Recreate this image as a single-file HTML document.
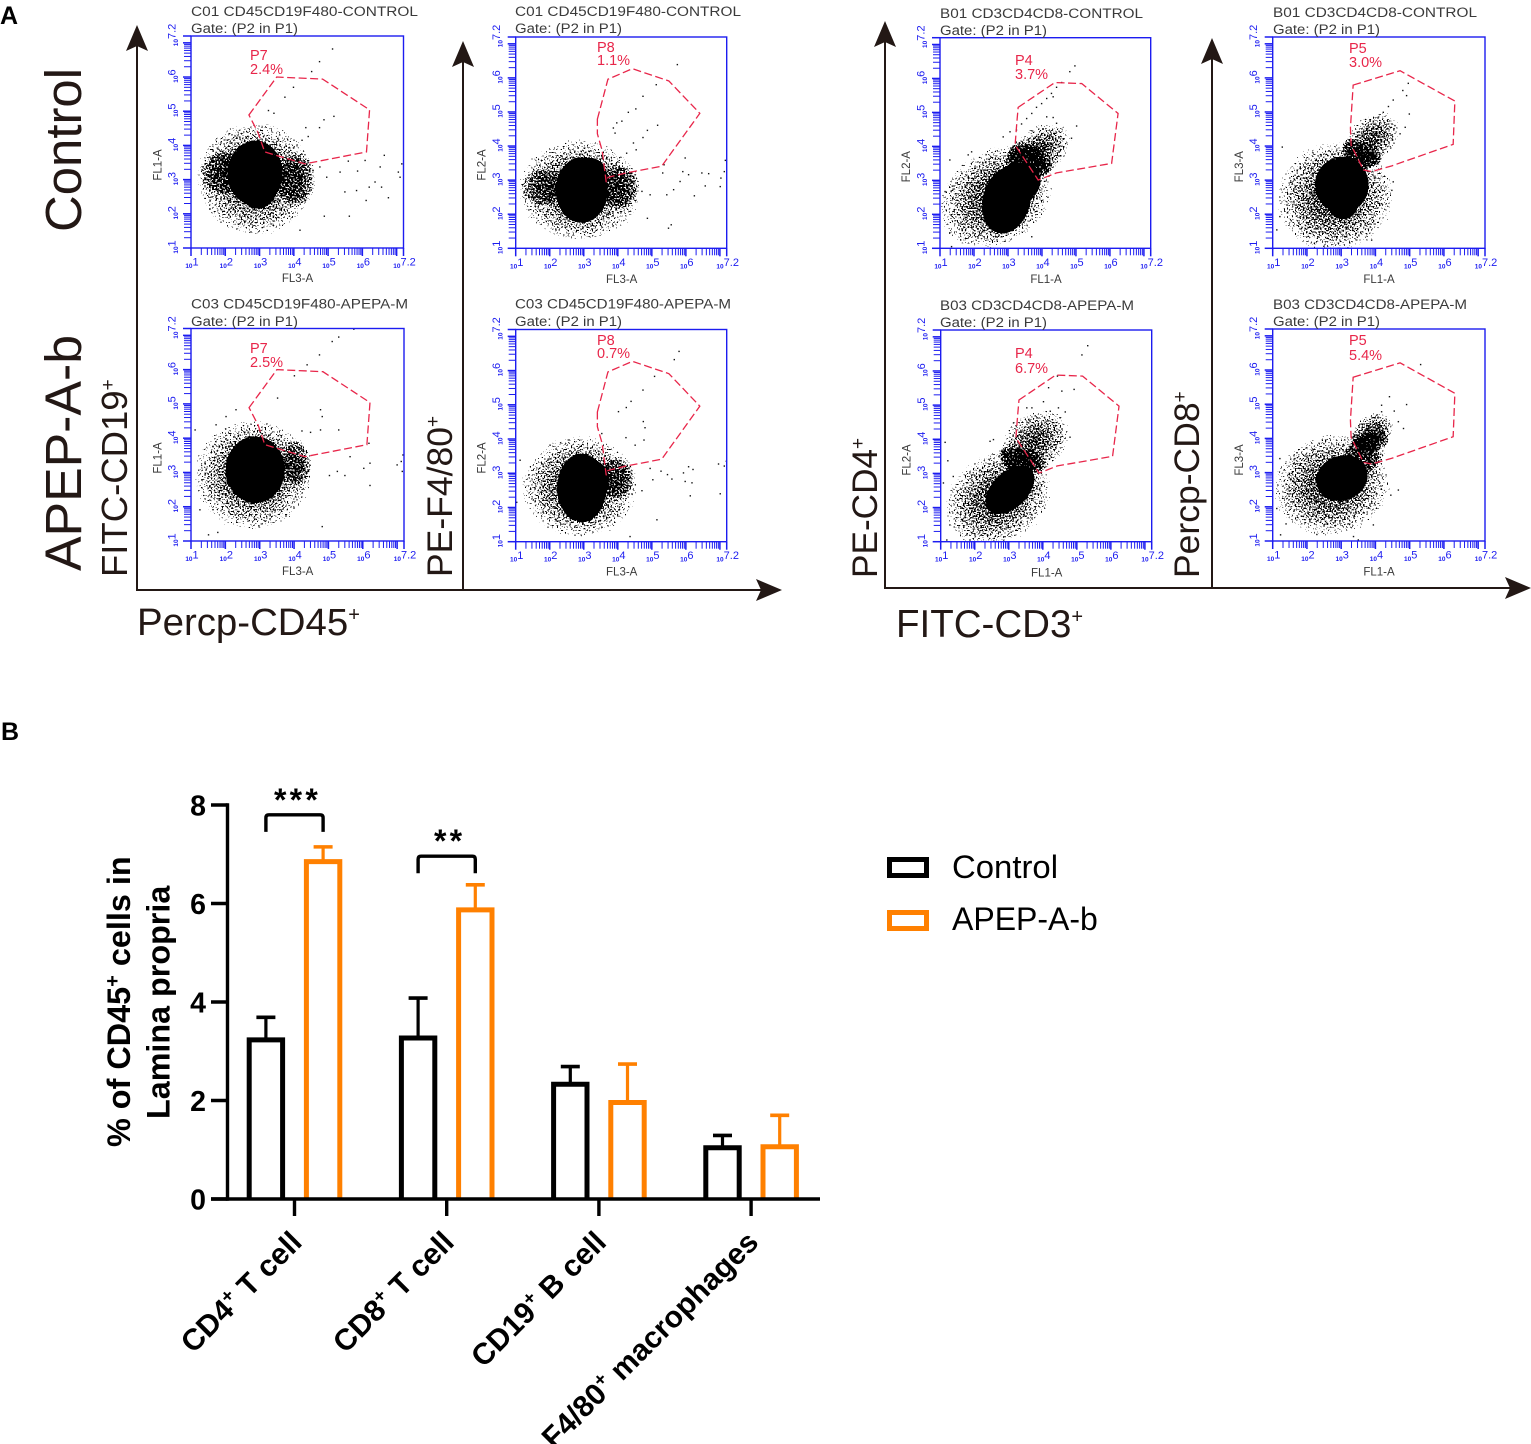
<!DOCTYPE html>
<html lang="en">
<head>
<meta charset="utf-8">
<title>Flow cytometry and lamina propria cell percentages</title>
<style>
html,body{margin:0;padding:0;background:#fff;}
svg{display:block;font-family:"Liberation Sans",Arial,sans-serif;}
.ttl{font-size:13.5px;fill:#3a3a3a;}
.fl{font-size:11.5px;fill:#3a3a3a;}
.pct{font-size:14.5px;fill:#e8264a;}
.big{fill:#231815;}
.bar-label{white-space:pre;}
</style>
</head>
<body>
<svg id="figure" xmlns="http://www.w3.org/2000/svg" width="1531" height="1444" viewBox="0 0 1531 1444">
<defs>
<filter id="speckle" x="-5%" y="-5%" width="110%" height="110%" color-interpolation-filters="sRGB">
<feTurbulence type="fractalNoise" baseFrequency="0.63" numOctaves="1" seed="7" result="n"/>
<feColorMatrix in="n" type="matrix" values="0 0 0 0 0  0 0 0 0 0  0 0 0 0 0  1 0 0 0 0" result="na"/>
<feComposite in="SourceAlpha" in2="na" operator="arithmetic" k1="0" k2="1" k3="1" k4="-1"/>
<feComponentTransfer><feFuncA type="linear" slope="40" intercept="0"/></feComponentTransfer>
</filter>
<radialGradient id="halo-fill">
<stop offset="0" stop-color="#000" stop-opacity="0.6"/>
<stop offset="0.4" stop-color="#000" stop-opacity="0.52"/>
<stop offset="0.7" stop-color="#000" stop-opacity="0.44"/>
<stop offset="0.86" stop-color="#000" stop-opacity="0.35"/>
<stop offset="1" stop-color="#000" stop-opacity="0"/>
</radialGradient>
<radialGradient id="core-fill">
<stop offset="0" stop-color="#000" stop-opacity="1"/>
<stop offset="0.72" stop-color="#000" stop-opacity="1"/>
<stop offset="0.86" stop-color="#000" stop-opacity="0.72"/>
<stop offset="1" stop-color="#000" stop-opacity="0.52"/>
</radialGradient>
</defs>

<text x="0" y="24" font-size="25" font-weight="bold" fill="#000">A</text>
<text x="1" y="740" font-size="25" font-weight="bold" fill="#000">B</text>

<g id="flow-layer" style="filter:blur(0.3px)"></g>

<g style="filter:blur(0.25px)">
<text class="ttl" x="191" y="16" textLength="227" lengthAdjust="spacingAndGlyphs">C01 CD45CD19F480-CONTROL</text>
<text class="ttl" x="191" y="33" textLength="107" lengthAdjust="spacingAndGlyphs">Gate: (P2 in P1)</text>
<text class="ttl" x="515" y="16" textLength="226" lengthAdjust="spacingAndGlyphs">C01 CD45CD19F480-CONTROL</text>
<text class="ttl" x="515" y="33" textLength="107" lengthAdjust="spacingAndGlyphs">Gate: (P2 in P1)</text>
<text class="ttl" x="191" y="308.5" textLength="217" lengthAdjust="spacingAndGlyphs">C03 CD45CD19F480-APEPA-M</text>
<text class="ttl" x="191" y="326" textLength="107" lengthAdjust="spacingAndGlyphs">Gate: (P2 in P1)</text>
<text class="ttl" x="515" y="308.5" textLength="216" lengthAdjust="spacingAndGlyphs">C03 CD45CD19F480-APEPA-M</text>
<text class="ttl" x="515" y="326" textLength="107" lengthAdjust="spacingAndGlyphs">Gate: (P2 in P1)</text>
<text class="ttl" x="940" y="18" textLength="203" lengthAdjust="spacingAndGlyphs">B01 CD3CD4CD8-CONTROL</text>
<text class="ttl" x="940" y="35" textLength="107" lengthAdjust="spacingAndGlyphs">Gate: (P2 in P1)</text>
<text class="ttl" x="1273" y="17" textLength="204" lengthAdjust="spacingAndGlyphs">B01 CD3CD4CD8-CONTROL</text>
<text class="ttl" x="1273" y="34" textLength="107" lengthAdjust="spacingAndGlyphs">Gate: (P2 in P1)</text>
<text class="ttl" x="940" y="310" textLength="194" lengthAdjust="spacingAndGlyphs">B03 CD3CD4CD8-APEPA-M</text>
<text class="ttl" x="940" y="327" textLength="107" lengthAdjust="spacingAndGlyphs">Gate: (P2 in P1)</text>
<text class="ttl" x="1273" y="309" textLength="194" lengthAdjust="spacingAndGlyphs">B03 CD3CD4CD8-APEPA-M</text>
<text class="ttl" x="1273" y="326" textLength="107" lengthAdjust="spacingAndGlyphs">Gate: (P2 in P1)</text>

<text class="pct" x="250" y="60">P7</text>
<text class="pct" x="250" y="74">2.4%</text>
<text class="pct" x="597" y="52">P8</text>
<text class="pct" x="597" y="65">1.1%</text>
<text class="pct" x="250" y="353">P7</text>
<text class="pct" x="250" y="367">2.5%</text>
<text class="pct" x="597" y="345">P8</text>
<text class="pct" x="597" y="358">0.7%</text>
<text class="pct" x="1015" y="65">P4</text>
<text class="pct" x="1015" y="79">3.7%</text>
<text class="pct" x="1349" y="53">P5</text>
<text class="pct" x="1349" y="67">3.0%</text>
<text class="pct" x="1015" y="358">P4</text>
<text class="pct" x="1015" y="373">6.7%</text>
<text class="pct" x="1349" y="345">P5</text>
<text class="pct" x="1349" y="360">5.4%</text>

<text class="fl" x="297.5" y="282" text-anchor="middle">FL3-A</text>
<text class="fl" transform="translate(161.7,165) rotate(-90)" text-anchor="middle">FL1-A</text>
<text class="fl" x="621.7" y="283" text-anchor="middle">FL3-A</text>
<text class="fl" transform="translate(485.7,165) rotate(-90)" text-anchor="middle">FL2-A</text>
<text class="fl" x="297.7" y="575" text-anchor="middle">FL3-A</text>
<text class="fl" transform="translate(161.7,458) rotate(-90)" text-anchor="middle">FL1-A</text>
<text class="fl" x="621.7" y="575.7" text-anchor="middle">FL3-A</text>
<text class="fl" transform="translate(485.7,458) rotate(-90)" text-anchor="middle">FL2-A</text>
<text class="fl" x="1046" y="283" text-anchor="middle">FL1-A</text>
<text class="fl" transform="translate(910,166.7) rotate(-90)" text-anchor="middle">FL2-A</text>
<text class="fl" x="1379" y="283" text-anchor="middle">FL1-A</text>
<text class="fl" transform="translate(1243,166.7) rotate(-90)" text-anchor="middle">FL3-A</text>
<text class="fl" x="1046.7" y="576.7" text-anchor="middle">FL1-A</text>
<text class="fl" transform="translate(910.7,460) rotate(-90)" text-anchor="middle">FL2-A</text>
<text class="fl" x="1379" y="575.7" text-anchor="middle">FL1-A</text>
<text class="fl" transform="translate(1243,460) rotate(-90)" text-anchor="middle">FL3-A</text>
</g>

<g fill="#231815" stroke="none">
<rect x="136" y="45" width="2" height="546"/>
<path d="M137 25 L126 51 L137 46 L148 51 Z"/>
<rect x="462" y="60" width="2" height="530"/>
<path d="M463 41 L452 67 L463 62 L474 67 Z"/>
<rect x="136" y="589" width="625" height="2"/>
<path d="M782 590 L756 579 L761 590 L756 601 Z"/>
<rect x="884" y="40" width="2" height="549"/>
<path d="M885 21 L874 47 L885 42 L896 47 Z"/>
<rect x="1211" y="58" width="2" height="530"/>
<path d="M1212 38 L1201 64 L1212 59 L1223 64 Z"/>
<rect x="884" y="587" width="626" height="2"/>
<path d="M1531 588 L1505 577 L1510 588 L1505 599 Z"/>
</g>

<g>
<text class="big" transform="translate(81,232) rotate(-90)" font-size="51" textLength="164" lengthAdjust="spacingAndGlyphs">Control</text>
<text class="big" transform="translate(81,571) rotate(-90)" font-size="51" textLength="236" lengthAdjust="spacingAndGlyphs">APEP-A-b</text>
<text class="big" transform="translate(127,577) rotate(-90)" font-size="36.5">FITC-CD19<tspan dy="-13" font-size="19">+</tspan></text>
<text class="big" transform="translate(452,577) rotate(-90)" font-size="35.5">PE-F4/80<tspan dy="-13" font-size="19">+</tspan></text>
<text class="big" x="137" y="635" font-size="38.4">Percp-CD45<tspan dy="-14" font-size="20">+</tspan></text>
<text class="big" transform="translate(877,578) rotate(-90)" font-size="35.2">PE-CD4<tspan dy="-13" font-size="19">+</tspan></text>
<text class="big" transform="translate(1199,578) rotate(-90)" font-size="35.5">Percp-CD8<tspan dy="-13" font-size="19">+</tspan></text>
<text class="big" x="896" y="637" font-size="38.5">FITC-CD3<tspan dy="-14" font-size="20">+</tspan></text>
</g>

<g id="bar-chart"></g>

<g fill="#000" font-weight="bold">
<text transform="translate(130,1147) rotate(-90)" font-size="32.4">% of CD45<tspan dy="-11" font-size="20">+</tspan><tspan dy="11"> cells in</tspan></text>
<text transform="translate(169.5,1119) rotate(-90)" font-size="32.3">Lamina propria</text>
</g>

<g>
<rect x="889.5" y="859.5" width="37" height="16" fill="#fff" stroke="#000" stroke-width="5"/>
<text x="952" y="878" font-size="32" fill="#000" textLength="106" lengthAdjust="spacingAndGlyphs">Control</text>
<rect x="889.5" y="912.5" width="37" height="16" fill="#fff" stroke="#ff8000" stroke-width="5"/>
<text x="952" y="930" font-size="32" fill="#000">APEP-A-b</text>
</g>
</svg>

<script>
// ----- Flow cytometry data (all values are log10 decades) -----
const gateP7 = [[2.69,4.89],[3.50,6.0],[4.84,5.94],[6.21,5.04],[6.12,3.81],[4.32,3.46],[3.15,3.81],[2.95,4.39]];
const gateP8 = [[3.40,4.79],[3.71,5.96],[4.43,6.27],[5.50,5.91],[6.41,4.96],[5.29,3.41],[4.24,3.21],[3.71,3.08],[3.66,2.94],[3.54,3.87],[3.40,4.36]];
const gateP4 = [[3.30,5.15],[4.38,5.88],[5.17,5.85],[6.24,4.97],[6.05,3.5],[4.43,3.22],[3.89,3.01],[3.21,4.04],[3.26,4.69]];
const gateP5 = [[3.35,5.79],[4.72,6.21],[6.32,5.32],[6.27,4.05],[4.48,3.42],[3.89,3.25],[3.65,3.30],[3.29,4.03],[3.27,4.53]];

// clouds: centre x, centre y, spread x, spread y, tilt, relative density
const a1Core = [[2.87,3.19,.8,.95,0,1],[2.95,2.75,.55,.6,0,1]];
const a1Halo = [[2.87,3.03,1.9,1.85,0,1],[4.1,3.0,.6,.8,0,.5],[1.95,3.2,.7,.65,0,.45]];
const a2Core = [[2.94,2.71,.76,.96,0,1],[3.2,3.05,.5,.6,0,1]];
const a2Halo = [[2.89,2.71,2.0,1.65,0,1],[4.05,2.8,.6,.65,0,.5],[1.8,2.8,.65,.55,0,.4]];
const a3Core = [[2.87,3.08,.86,.97,0,1]];
const a3Halo = [[2.81,2.93,1.9,1.8,0,1],[4.09,3.31,.45,.7,0,.5]];
const a4Core = [[2.94,2.57,.72,1.0,0,1],[3.0,2.85,.74,.6,0,1]];
const a4Halo = [[2.89,2.6,1.9,1.65,0,1],[3.94,2.86,.55,.6,0,.5]];
const b1Core = [[2.96,2.42,.7,1.0,15,1],[3.2,2.85,.8,.62,-30,1]];
const b1Halo = [[2.67,2.52,2.0,1.55,-35,1],[3.94,3.89,1.15,.75,-35,.98]];
const b2Core = [[3.02,2.86,.78,.82,0,1],[3.05,2.45,.48,.6,0,1]];
const b2Halo = [[2.82,2.51,1.9,1.8,-20,1],[3.89,4.18,1.05,.72,-45,.98]];
const b3Core = [[3.04,2.52,.86,.52,-45,1]];
const b3Halo = [[2.69,2.27,1.85,1.45,-35,1],[3.77,3.94,1.2,.9,-35,.98]];
const b4Core = [[3.02,2.84,.76,.65,-20,1]];
const b4Halo = [[2.72,2.64,1.9,1.65,-15,1],[3.93,4.2,.7,.58,-30,1],[3.75,3.6,.8,.55,-40,.6]];

// isolated events, x / y
const a1Points = [[5.13,6.82],[4.75,6.45],[4.52,6.16],[3.99,5.70],[3.74,5.41],[3.26,5.02],[3.42,4.94],[5.17,4.85],[4.88,4.75],[4.75,4.52],[4.35,4.52],[4.42,4.26],[4.24,4.15],[6.64,3.71],[6.08,3.56],[7.15,3.46],[7.05,3.22],[6.52,3.37],[5.35,3.22],[5.86,3.25],[6.37,2.93],[5.49,2.64],[5.83,2.68],[6.11,2.39],[6.76,2.47],[5.62,1.93],[4.89,1.93],[4.18,1.52],[6.2,2.78],[7.1,3.07],[6.56,2.78],[5.59,3.54],[4.96,3.07],[4.76,3.37]];
const a2Points = [[5.75,6.39],[5.13,5.80],[4.74,5.46],[4.53,5.09],[4.31,4.99],[4.12,4.73],[3.97,4.68],[3.87,4.53],[3.92,4.38],[5.17,4.61],[4.87,4.46],[4.74,4.25],[4.46,4.09],[4.26,3.79],[4.54,3.89],[5.98,3.65],[5.36,3.45],[5.32,3.21],[5.91,3.25],[6.47,3.21],[6.67,3.19],[7.03,3.06],[7.16,3.58],[7.13,3.25],[6.57,2.83],[7.01,2.81],[5.83,2.96],[6.08,3.16],[5.64,2.72],[6.25,2.54],[5.44,2.57],[4.87,1.88],[5.57,1.69],[5.49,1.59],[4.95,2.57],[4.71,2.67]];
const a3Points = [[5.11,6.82],[5.30,6.95],[5.74,7.18],[4.74,6.43],[4.38,6.14],[4.01,5.82],[3.52,5.17],[4.77,4.83],[4.82,4.63],[5.30,4.24],[4.77,4.24],[4.48,4.17],[4.23,4.21],[2.31,4.83],[2.02,4.63],[6.18,3.85],[5.63,3.46],[7.12,3.32],[7.0,3.22],[7.17,3.51],[7.15,3.03],[6.03,3.12],[6.21,3.27],[6.21,2.62],[5.03,2.91],[5.48,2.91],[5.26,3.03],[4.82,1.42],[1.51,1.18],[1.78,1.25],[1.26,1.91],[1.12,4.24],[1.73,4.39]];
const a4Points = [[5.80,6.56],[5.66,6.32],[5.08,5.83],[4.74,5.43],[4.39,5.10],[4.25,4.92],[4.02,4.80],[4.75,4.51],[4.80,4.33],[3.53,4.16],[4.24,4.04],[4.77,3.97],[4.51,3.82],[6.08,3.19],[6.21,3.11],[5.93,3.01],[6.18,2.72],[5.98,2.76],[6.96,3.27],[7.13,3.21],[7.19,3.35],[7.01,2.40],[6.13,2.34],[5.59,2.83],[5.27,3.06],[5.46,2.96],[4.95,3.14],[5.03,2.81],[4.71,2.49],[5.15,1.64],[4.36,1.15],[2.32,3.89],[2.01,3.82],[1.03,2.15],[1.13,3.38]];
const b1Points = [[4.97,6.37],[4.82,6.20],[4.58,5.88],[4.43,5.74],[4.28,5.56],[4.14,5.41],[3.99,5.26],[3.84,5.15],[3.70,4.97],[3.55,4.82],[3.40,4.66],[3.25,4.48],[4.33,5.46],[4.14,4.87],[4.33,4.85],[4.43,4.68],[5.02,4.60],[4.87,4.24],[4.63,4.21],[1.29,3.60],[1.64,3.21],[1.15,2.67],[1.29,1.46],[1.34,1.05],[1.93,3.84],[3.70,1.34],[1.83,3.75],[3.06,4.43],[2.86,4.28]];
const b2Points = [[4.96,5.84],[4.80,5.63],[4.91,5.48],[4.52,5.35],[4.38,5.16],[4.23,4.99],[4.09,4.85],[3.94,4.73],[3.79,4.60],[4.99,4.94],[4.87,4.55],[4.57,4.60],[4.72,4.36],[1.28,3.97],[3.89,1.24],[1.12,1.54],[1.21,1.93],[1.97,3.58],[4.52,2.95],[4.48,2.70],[4.18,2.31]];
const b3Points = [[5.32,6.74],[5.15,6.47],[4.43,5.85],[4.17,5.51],[4.92,5.46],[4.56,5.41],[4.02,5.10],[3.53,4.92],[3.68,4.92],[4.22,4.82],[4.46,4.92],[4.66,4.80],[4.51,4.63],[4.80,4.06],[1.13,3.91],[1.21,3.37],[1.08,2.72],[1.37,2.91],[1.27,1.49],[1.18,1.05],[4.02,2.76],[3.97,2.18],[3.14,4.48],[2.55,3.99],[2.45,3.94]];
const b4Points = [[5.32,6.16],[4.41,5.22],[4.18,4.97],[4.91,4.99],[4.55,4.80],[4.67,4.49],[4.82,4.29],[2.16,3.69],[1.65,3.41],[1.21,3.41],[1.39,1.50],[1.23,1.18],[3.94,1.47],[4.45,2.34],[4.67,2.49],[3.50,1.03],[3.36,1.13],[1.12,1.95],[2.29,1.19],[4.18,4.78],[4.04,4.68]];

const decadeTicks = [1,2,3,4,5,6,7,7.2];
const decadeLabels = ['1','2','3','4','5','6','','7.2'];
const minorMultipliers = [2,3,4,5,6,7,8,9];

// ----- Bar chart data -----
const barCategoriesMain = ['CD4','CD8','CD19','F4/80'];
const barCategoriesRest = [' T cell',' T cell',' B cell',' macrophages'];
const controlMeans = [3.23,3.27,2.33,1.04];
const controlErrors = [0.46,0.81,0.36,0.25];
const apepMeans = [6.85,5.87,1.96,1.06];
const apepErrors = [0.30,0.51,0.78,0.64];
const yTickValues = [0,2,4,6,8];
const significanceLevels = [7.8,6.96];
const significanceLabels = ['***','**'];

const NS = 'http://www.w3.org/2000/svg';
function svgEl(tag, attrs, parent){
  const el = document.createElementNS(NS, tag);
  for (const k in attrs) el.setAttribute(k, attrs[k]);
  parent.appendChild(el);
  return el;
}

const BLUE = '#1c1cf0';
const flowLayer = document.getElementById('flow-layer');

function drawCloudSet(list, cls, parent, sx, sy, unitX, unitY, fill){
  list.forEach(function(c){
    const cx = sx(c[0]), cy = sy(c[1]);
    const el = svgEl('ellipse', {cx: cx, cy: cy, rx: c[2]*unitX, ry: c[3]*unitY, fill: fill, 'fill-opacity': c[5], transform: 'rotate(' + c[4] + ' ' + cx + ' ' + cy + ')'}, parent);
    
    
  });
}

function drawFlowPanel(id, x0, y0, x1, y1, gate, core, halo, points){
  const unitX = (x1 - x0) / 6.2, unitY = (y1 - y0) / 6.2;
  const sx = function(v){ return x0 + (v - 1) * unitX; };
  const sy = function(v){ return y1 - (v - 1) * unitY; };

  const g = svgEl('g', {}, flowLayer);
  
  

  const clip = svgEl('clipPath', {id: 'clip-' + id}, g);
  
  
  const clipRect = svgEl('rect', {x: x0, y: y0, width: x1 - x0, height: y1 - y0}, clip);
  
  

  const clipped = svgEl('g', {'clip-path': 'url(#clip-' + id + ')'}, g);
  
  

  const haloGroup = svgEl('g', {filter: 'url(#speckle)'}, clipped);
  
  
  drawCloudSet(halo, 'scatter-halo', haloGroup, sx, sy, unitX, unitY, 'url(#halo-fill)');
  drawCloudSet(core, 'scatter-core', haloGroup, sx, sy, unitX, unitY, 'url(#core-fill)');

  points.forEach(function(p){
    const dot = svgEl('rect', {x: sx(p[0]) - 0.7, y: sy(p[1]) - 0.7, width: 1.4, height: 1.4, fill: '#111'}, clipped);
    
    
  });

  const frame = svgEl('rect', {x: x0, y: y0, width: x1 - x0, height: y1 - y0, fill: 'none', stroke: BLUE, 'stroke-width': 1.4}, g);
  
  

  const gatePoly = svgEl('polygon', {points: gate.map(function(p){ return sx(p[0]) + ',' + sy(p[1]); }).join(' '), fill: 'none', stroke: '#e8264a', 'stroke-width': 1.3, 'stroke-dasharray': '8 3.5'}, g);
  
  

  decadeTicks.forEach(function(v, i){
    const xt = svgEl('line', {x1: sx(v), x2: sx(v), y1: y1, y2: y1 + 8, stroke: BLUE, 'stroke-width': 1.5}, g);
    
    
    const yt = svgEl('line', {x1: x0 - 8, x2: x0, y1: sy(v), y2: sy(v), stroke: BLUE, 'stroke-width': 1.5}, g);
    
    
    if (v < 7) {
      minorMultipliers.forEach(function(m){
        const u = v + Math.log10(m);
        const xm = svgEl('line', {x1: sx(u), x2: sx(u), y1: y1, y2: y1 + 7, stroke: BLUE, 'stroke-width': 1}, g);
        
        
        const ym = svgEl('line', {x1: x0 - 7, x2: x0, y1: sy(u), y2: sy(u), stroke: BLUE, 'stroke-width': 1}, g);
        
        
      });
    }
    if (decadeLabels[i] !== '') {
      const xl = svgEl('text', {x: sx(v) + 1, y: y1 + 20, 'text-anchor': 'middle', fill: BLUE, 'font-size': 6.5, 'font-weight': 'bold'}, g);
      
      
      xl.textContent = '10';
      const xe = svgEl('tspan', {dy: -2.5, 'font-size': 11, 'font-weight': 'normal'}, xl);
      
      
      xe.textContent = decadeLabels[i];

      const tx = x0 - 13, ty = sy(v) - 1;
      const yl = svgEl('text', {transform: 'translate(' + tx + ',' + ty + ') rotate(-90)', 'text-anchor': 'middle', fill: BLUE, 'font-size': 6.5, 'font-weight': 'bold'}, g);
      
      
      yl.textContent = '10';
      const ye = svgEl('tspan', {dy: -2.5, 'font-size': 11, 'font-weight': 'normal'}, yl);
      
      
      ye.textContent = decadeLabels[i];
    }
  });
}

drawFlowPanel('a1', 191, 36, 403.5, 248, gateP7, a1Core, a1Halo, a1Points);
drawFlowPanel('a2', 515.7, 37, 726.7, 248.3, gateP8, a2Core, a2Halo, a2Points);
drawFlowPanel('a3', 191, 328.5, 404, 541, gateP7, a3Core, a3Halo, a3Points);
drawFlowPanel('a4', 515.7, 329.5, 726.7, 541.7, gateP8, a4Core, a4Halo, a4Points);
drawFlowPanel('b1', 940, 37.7, 1150.7, 248.3, gateP4, b1Core, b1Halo, b1Points);
drawFlowPanel('b2', 1272.7, 37, 1485, 248.3, gateP5, b2Core, b2Halo, b2Points);
drawFlowPanel('b3', 940.7, 330, 1151.7, 541.7, gateP4, b3Core, b3Halo, b3Points);
drawFlowPanel('b4', 1272.7, 329, 1485, 541, gateP5, b4Core, b4Halo, b4Points);

// ----- Bar chart -----
const chart = document.getElementById('bar-chart');
const groupX = function(i){ return 294.5 + i * 152.2; };
const valueY = function(v){ return 1199 - v * 49.25; };
const BAR_OFFSET = 28.6, BAR_HALF = 16.7, CAP_HALF = 9.5;

function drawBar(i, mean, err, side, color, seriesName){
  const cx = groupX(i) + side * BAR_OFFSET;
  const top = valueY(mean), cap = valueY(mean + err);
  const stem = svgEl('line', {x1: cx, x2: cx, y1: top, y2: cap, stroke: color, 'stroke-width': 3.2}, chart);
  
  
  const capLine = svgEl('line', {x1: cx - CAP_HALF, x2: cx + CAP_HALF, y1: cap, y2: cap, stroke: color, 'stroke-width': 3.6}, chart);
  
  
  const bar = svgEl('path', {d: 'M' + (cx - BAR_HALF) + ' 1199 V' + top + ' H' + (cx + BAR_HALF) + ' V1199', fill: '#fff', stroke: color, 'stroke-width': 5, 'stroke-linejoin': 'miter'}, chart);
  
  
}

barCategoriesMain.forEach(function(name, i){
  drawBar(i, controlMeans[i], controlErrors[i], -1, '#000', 'control');
  drawBar(i, apepMeans[i], apepErrors[i], 1, '#ff8000', 'apep-a-b');
});

const yAxis = svgEl('line', {x1: 227.5, x2: 227.5, y1: valueY(8) - 1.7, y2: 1200.7, stroke: '#000', 'stroke-width': 3.4}, chart);


const xAxis = svgEl('line', {x1: 211, x2: 820, y1: 1199, y2: 1199, stroke: '#000', 'stroke-width': 3.4}, chart);



yTickValues.forEach(function(v){
  const t = svgEl('line', {x1: 211, x2: 227.5, y1: valueY(v), y2: valueY(v), stroke: '#000', 'stroke-width': 3.4}, chart);
  
  
  const lab = svgEl('text', {x: 206, y: valueY(v) + 10.5, 'text-anchor': 'end', 'font-size': 28.5, 'font-weight': 'bold', fill: '#000'}, chart);
  
  
  lab.textContent = String(v);
});

barCategoriesMain.forEach(function(name, i){
  const gx = groupX(i);
  const t = svgEl('line', {x1: gx, x2: gx, y1: 1199, y2: 1216, stroke: '#000', 'stroke-width': 3.4}, chart);
  
  
  const lab = svgEl('text', {transform: 'translate(' + (gx + 9) + ',1244) rotate(-45)', 'text-anchor': 'end', 'font-size': 30, 'font-weight': 'bold', fill: '#000', class: 'bar-label'}, chart);
  
  
  lab.textContent = name;
  const sup = svgEl('tspan', {dy: -11, 'font-size': 19}, lab);
  
  
  sup.textContent = '+';
  const rest = svgEl('tspan', {dy: 11}, lab);
  
  
  rest.textContent = barCategoriesRest[i];
});

significanceLevels.forEach(function(level, i){
  const left = groupX(i) - BAR_OFFSET, right = groupX(i) + BAR_OFFSET;
  const top = valueY(level);
  const br = svgEl('path', {d: 'M' + left + ' ' + (top + 17) + ' V' + (top + 3) + ' Q' + left + ' ' + top + ' ' + (left + 3) + ' ' + top + ' H' + (right - 3) + ' Q' + right + ' ' + top + ' ' + right + ' ' + (top + 3) + ' V' + (top + 17), fill: 'none', stroke: '#000', 'stroke-width': 3.4}, chart);
  
  
  const st = svgEl('text', {x: groupX(i) + 3, y: top - 4, 'text-anchor': 'middle', 'font-size': 32, 'font-weight': 'bold', fill: '#000', 'letter-spacing': 3.2}, chart);
  
  
  st.textContent = significanceLabels[i];
});
</script>
</body>
</html>
